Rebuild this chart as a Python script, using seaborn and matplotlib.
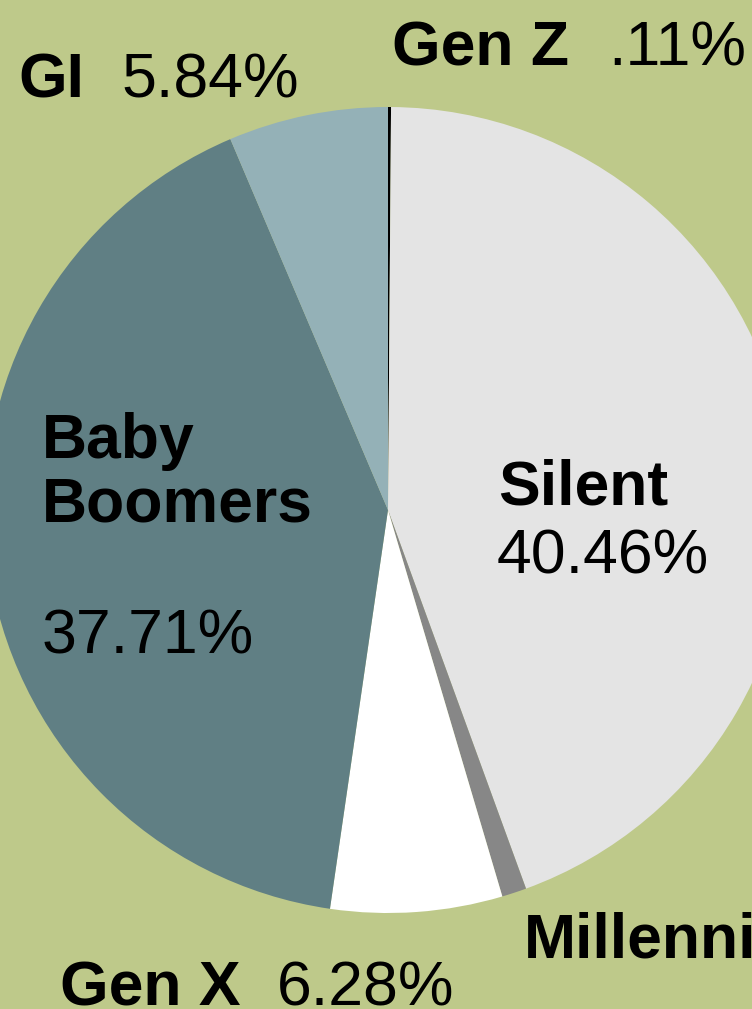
import matplotlib
matplotlib.use("Agg")
import matplotlib.pyplot as plt
import seaborn as sns

# Data (clockwise from 12 o'clock)
generations = ["Gen Z", "Silent", "Millennials", "Gen X", "Baby Boomers", "GI"]
shares = [0.11, 40.46, 0.90, 6.28, 37.71, 5.84]
name_labels = ["Gen Z", "Silent", "Millenni", "Gen X", "Baby\nBoomers", "GI"]
pct_labels = [".11%", "40.46%", "", "6.28%", "37.71%", "5.84%"]
colors = ["#000000", "#e4e4e4", "#878787", "#ffffff", "#607f84", "#94b1b7"]

BG = "#bec98a"

sns.set_theme(style="white")
plt.rcParams["font.family"] = ["Liberation Sans", "DejaVu Sans"]

W, H = 752, 1009
fig = plt.figure(figsize=(W / 100, H / 100), dpi=100, facecolor=BG)
ax = fig.add_axes([0, 0, 1, 1])
ax.set_facecolor(BG)

cx, cy, R = 388, 510, 403  # pixel center and radius
ax.pie(shares, colors=colors, startangle=90, counterclock=False,
       radius=1.0, wedgeprops=dict(linewidth=0))
ax.set_xlim(-cx / R, (W - cx) / R)
ax.set_ylim(-(H - cy) / R, cy / R)
ax.set_aspect("equal")
ax.axis("off")

FS = 45

def put(x, y, s, bold=False, ha="left"):
    fig.text(x / W, 1 - y / H, s, fontsize=FS, ha=ha, va="baseline",
             fontweight="bold" if bold else "normal", color="black",
             linespacing=1.0)

# GI
put(18, 98, name_labels[5], bold=True)
put(121, 98, pct_labels[5])
# Gen Z
put(392, 66, name_labels[0], bold=True)
put(608, 66, pct_labels[0])
# Silent
put(498, 505, name_labels[1], bold=True)
put(497, 573, pct_labels[1])
# Baby Boomers
put(42, 458, "Baby", bold=True)
put(42, 521, "Boomers", bold=True)
put(42, 653, pct_labels[4])
# Gen X
put(60, 1006, name_labels[3], bold=True)
put(277, 1006, pct_labels[3])
# Millennials (cut off at right edge)
put(524, 957, "Millennials", bold=True)

fig.savefig("out.png", dpi=100, facecolor=BG)
